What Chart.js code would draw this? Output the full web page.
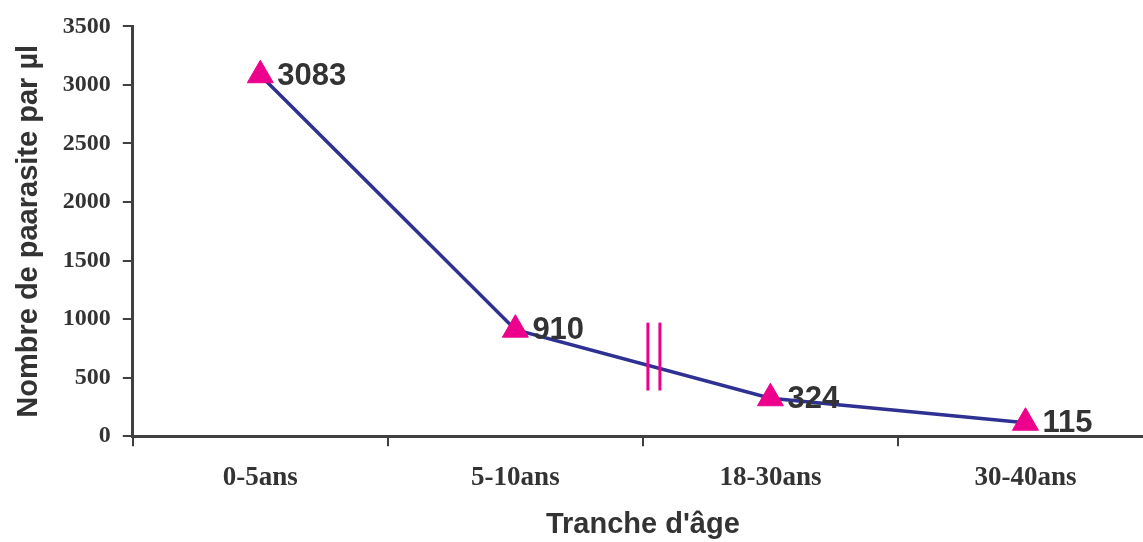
<!DOCTYPE html>
<html>
<head>
<meta charset="utf-8">
<script src="https://cdn.jsdelivr.net/npm/chart.js@4/dist/chart.umd.min.js"></script>
<style>
    html, body { margin: 0; padding: 0; background: #ffffff; overflow: hidden; }
    .wrap { width: 1169px; height: 542px; position: relative; }
</style>
</head>
<body>
<div class="wrap"><canvas id="ageChart"></canvas></div>
<script>
// Chart data
const categories = ['0-5ans', '5-10ans', '18-30ans', '30-40ans'];
const parasites = [3083, 910, 324, 115];
const yTicks = [0, 500, 1000, 1500, 2000, 2500, 3000, 3500];

// value labels next to each triangle
const valueLabels = {
    id: 'valueLabels',
    afterDatasetsDraw(chart) {
        const ctx = chart.ctx;
        const meta = chart.getDatasetMeta(0);
        ctx.save();
        ctx.font = 'bold 31px "Liberation Sans", Arial, sans-serif';
        ctx.fillStyle = '#333333';
        ctx.textAlign = 'left';
        ctx.textBaseline = 'middle';
        meta.data.forEach((pt, i) => {
            ctx.fillText(String(parasites[i]), pt.x + 17, pt.y + 1);
        });
        ctx.restore();
    }
};

// the "||" break marks between 5-10ans and 18-30ans
const breakMarks = {
    id: 'breakMarks',
    afterDatasetsDraw(chart) {
        const ctx = chart.ctx;
        const x = chart.scales.x;
        const mid = (x.getPixelForValue(1) + x.getPixelForValue(2)) / 2 + 11;
        const y = chart.scales.y;
        const top = y.getPixelForValue(970);
        const bottom = y.getPixelForValue(390);
        ctx.save();
        ctx.strokeStyle = '#EC008C';
        ctx.lineWidth = 3;
        [mid - 6, mid + 6].forEach(px => {
            ctx.beginPath();
            ctx.moveTo(px, top);
            ctx.lineTo(px, bottom);
            ctx.stroke();
        });
        ctx.restore();
    }
};

const ctx = document.getElementById('ageChart').getContext('2d');
new Chart(ctx, {
    type: 'line',
    data: {
        labels: categories,
        datasets: [{
            data: parasites,
            borderColor: '#2E3192',
            borderWidth: 3.5,
            tension: 0,
            pointStyle: 'triangle',
            pointRadius: 15,
            pointBackgroundColor: '#EC008C',
            pointBorderColor: '#EC008C',
            pointBorderWidth: 1
        }]
    },
    options: {
        responsive: true,
        maintainAspectRatio: false,
        animation: false,
        layout: { padding: { top: 11, left: 12, right: 0, bottom: 0 } },
        plugins: {
            legend: { display: false },
            tooltip: { enabled: false }
        },
        scales: {
            x: {
                offset: true,
                grid: {
                    offset: true,
                    drawOnChartArea: false,
                    color: '#404040',
                    lineWidth: 2,
                    tickLength: 10
                },
                border: { color: '#404040', width: 3 },
                ticks: {
                    color: '#333333',
                    padding: 18,
                    font: { family: '"Liberation Serif", "Times New Roman", serif', size: 27, weight: 'bold', lineHeight: 1 }
                },
                title: {
                    display: true,
                    text: "Tranche d'âge",
                    color: '#333333',
                    padding: { top: -2, bottom: 0 },
                    font: { family: '"Liberation Sans", Arial, sans-serif', size: 29, weight: 'bold' }
                }
            },
            y: {
                min: 0,
                max: 3500,
                afterBuildTicks(scale) {
                    scale.ticks = yTicks.map(v => ({ value: v }));
                },
                grid: {
                    drawOnChartArea: false,
                    color: '#404040',
                    lineWidth: 2,
                    tickLength: 10
                },
                border: { color: '#404040', width: 3 },
                ticks: {
                    color: '#333333',
                    padding: 12,
                    font: { family: '"Liberation Serif", "Times New Roman", serif', size: 24, weight: 'bold' },
                    callback: function(value) {
                        return String(value);
                    }
                },
                title: {
                    display: true,
                    text: 'Nombre de paarasite par µl',
                    color: '#333333',
                    padding: { top: 0, bottom: 4 },
                    font: { family: '"Liberation Sans", Arial, sans-serif', size: 29, weight: 'bold' }
                }
            }
        }
    },
    plugins: [valueLabels, breakMarks]
});
</script>
</body>
</html>
